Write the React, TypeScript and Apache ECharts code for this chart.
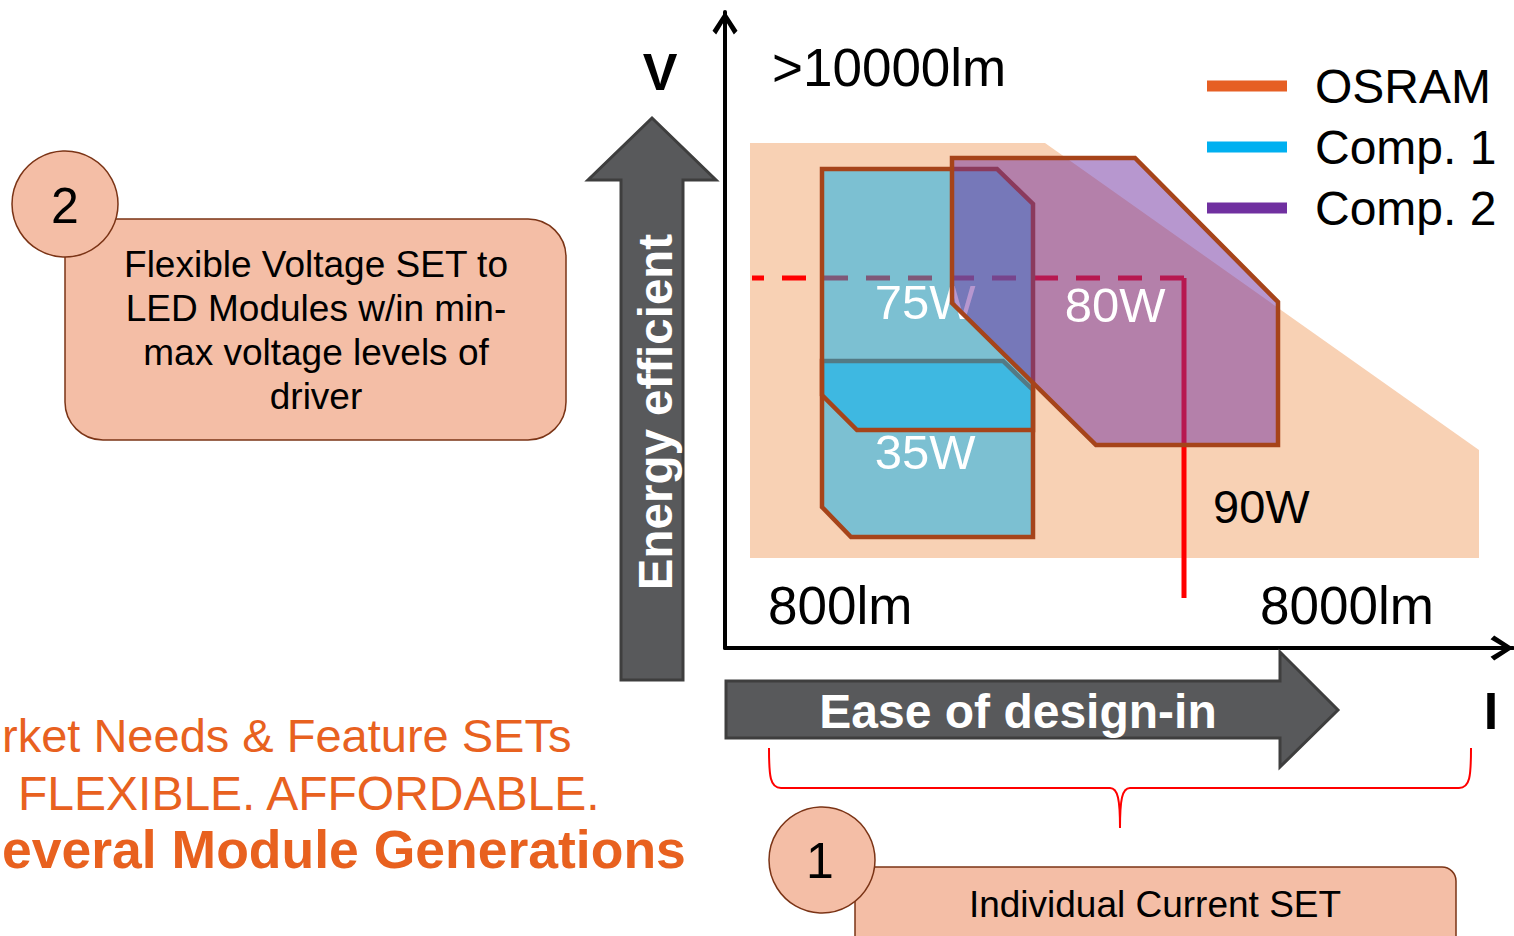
import React, { useEffect, useRef } from "react";
import * as echarts from "echarts";

// Conceptual diagram units (x: current "I", y: voltage "V")
const legendNames = ["OSRAM", "Comp. 1", "Comp. 2"];
const legendColors = ["#E65F24", "#00B0F0", "#7030A0"];

const osramArea = [[2.5, 50.5], [32.0, 50.5], [75.4, 19.8], [75.4, 9.0], [2.5, 9.0]];
const comp1Module35W = [[9.7, 28.7], [27.8, 28.7], [30.8, 25.8], [30.8, 11.1], [12.6, 11.1], [9.7, 14.1]];
const comp1Module75W = [[9.7, 47.9], [27.2, 47.9], [30.8, 44.4], [30.8, 21.8], [13.2, 21.8], [9.7, 25.3]];
const comp2Module80W = [[22.7, 49.0], [41.0, 49.0], [55.3, 34.6], [55.3, 20.3], [37.1, 20.3], [22.7, 34.5]];

const comp1Labels = ["35W", "75W"];
const comp1LabelPoints = [[20.0, 19.6], [20.0, 34.6]];
const comp2Labels = ["80W"];
const comp2LabelPoints = [[39.0, 34.3]];

const voltageLimit = [[2.7, 37.0], [45.9, 37.0]];
const currentLimit = [[45.9, 37.0], [45.9, 5.0]];
const limitLabel = "90W";
const limitLabelPoint = [48.8, 14.2];

const axisTexts = [">10000lm", "800lm", "8000lm"];
const calloutTexts = [
  "Flexible Voltage SET to\nLED Modules w/in min-\nmax voltage levels of\ndriver",
  "Individual Current SET",
];
// slogan lines as visible in the picture (left part lies beyond the page edge)
const bottomTexts = ["rket Needs & Feature SETs", "FLEXIBLE. AFFORDABLE.", "everal Module Generations"];

const FONT = "'Liberation Sans', Arial, Helvetica, sans-serif";
const BROWN = "#A6441A";
const SALMON = "#F4BEA6";
const CALLOUT_BORDER = "#7B3416";
const ARROW_FILL = "#58595B";
const ARROW_STROKE = "#3E3E3E";
const ORANGE_TEXT = "#E8611F";

const chevron = "path://M0,18.5 L12,0 L24,18.5 L20.5,22 L12,8 L3.5,22 Z";

function txt(text: string, x: number, y: number, size: number, opts: any = {}) {
  const align = opts.align || "left";
  return {
    type: "text",
    x,
    y,
    rotation: opts.rotation || 0,
    z: 10,
    style: {
      text,
      fill: opts.color || "#000",
      fontSize: size,
      fontFamily: FONT,
      fontWeight: opts.bold ? "bold" : "normal",
      textAlign: align,
      align,
      textVerticalAlign: "middle",
      verticalAlign: "middle",
      lineHeight: opts.lineHeight,
    },
  };
}

export default function App() {
  const ref = useRef<HTMLDivElement>(null);

  useEffect(() => {
    if (!ref.current) return;
    echarts.graphic.registerShape(
      "brace",
      echarts.graphic.extendPath(
        "M769,748 C769,776 770,788 781,788 L1110,788 C1118,788 1120,800 1120,828 C1120,800 1122,788 1130,788 L1459,788 C1470,788 1471,776 1471,748",
        {}
      )
    );
    const chart = echarts.init(ref.current, null, { renderer: "svg" });

    const polygonSeries = (
      name: string,
      color: string,
      z: number,
      polys: number[][][],
      fill: string,
      stroke: string | null,
      labels: string[],
      points: number[][],
      labelColor: string
    ) => ({
      type: "custom",
      name,
      z,
      clip: false,
      silent: true,
      itemStyle: { color },
      data: points.map((p, i) => ({ value: p, name: labels[i] })),
      renderItem: (params: any, api: any) => {
        const i = params.dataIndex;
        const pts = polys[i].map((pt) => api.coord(pt));
        const c = api.coord(points[i]);
        const children: any[] = [
          {
            type: "polygon",
            shape: { points: pts },
            style: {
              fill,
              stroke: stroke || "none",
              lineWidth: stroke ? 4.5 : 0,
              lineJoin: "miter",
            },
          },
        ];
        if (labels[i]) {
          children.push({
            type: "text",
            x: c[0],
            y: c[1],
            style: {
              text: labels[i],
              fill: labelColor,
              fontSize: 49,
              fontFamily: FONT,
              textAlign: "center",
              align: "center",
              textVerticalAlign: "middle",
              verticalAlign: "middle",
            },
          });
        }
        return { type: "group", children };
      },
    });

    const axisLine = {
      show: true,
      onZero: true,
      lineStyle: { color: "#000", width: 4 },
      symbol: ["none", chevron],
      symbolSize: [25, 23],
      symbolOffset: [0, -11],
    };

    const option: any = {
      animation: false,
      grid: { left: 725, top: 12, width: 788, height: 636 },
      xAxis: {
        type: "value",
        min: 0,
        max: 78.8,
        axisLine,
        axisTick: { show: false },
        axisLabel: { show: false },
        splitLine: { show: false },
      },
      yAxis: {
        type: "value",
        min: 0,
        max: 63.6,
        axisLine,
        axisTick: { show: false },
        axisLabel: { show: false },
        splitLine: { show: false },
      },
      legend: {
        data: legendNames,
        orient: "vertical",
        left: 1202,
        top: 56,
        icon: "rect",
        itemWidth: 80,
        itemHeight: 11,
        itemGap: 11,
        selectedMode: false,
        textStyle: {
          fontSize: 48,
          fontFamily: FONT,
          color: "#000",
          lineHeight: 50,
          padding: [0, 0, 0, 23],
        },
      },
      series: [
        polygonSeries(legendNames[0], legendColors[0], 1, [osramArea], "#F8D1B4", null, [""], [osramArea[4]], "#fff"),
        {
          type: "line",
          name: "voltage limit",
          z: 2,
          silent: true,
          symbol: "none",
          data: voltageLimit,
          lineStyle: { color: "#FF0000", width: 5, type: [24, 18], dashOffset: 12 },
        },
        {
          type: "line",
          name: "current limit",
          z: 2,
          silent: true,
          symbol: "none",
          data: currentLimit,
          lineStyle: { color: "#FF0000", width: 5 },
        },
        polygonSeries(
          legendNames[1],
          legendColors[1],
          3,
          [comp1Module35W, comp1Module75W],
          "rgba(0,176,240,0.5)",
          BROWN,
          comp1Labels,
          comp1LabelPoints,
          "#fff"
        ),
        polygonSeries(
          legendNames[2],
          legendColors[2],
          4,
          [comp2Module80W],
          "rgba(112,48,160,0.5)",
          BROWN,
          comp2Labels,
          comp2LabelPoints,
          "#fff"
        ),
        {
          type: "custom",
          name: "limit label",
          z: 5,
          clip: false,
          silent: true,
          data: [{ value: limitLabelPoint, name: limitLabel }],
          renderItem: (params: any, api: any) => {
            const c = api.coord(limitLabelPoint);
            return {
              type: "text",
              x: c[0],
              y: c[1],
              style: {
                text: limitLabel,
                fill: "#000",
                fontSize: 47,
                fontFamily: FONT,
                textAlign: "left",
                align: "left",
                textVerticalAlign: "middle",
                verticalAlign: "middle",
              },
            };
          },
        },
      ],
      graphic: [
        // vertical arrow
        {
          type: "polygon",
          z: 5,
          shape: {
            points: [[621, 680], [621, 180], [588, 180], [652, 118], [716, 180], [683, 180], [683, 680]],
          },
          style: { fill: ARROW_FILL, stroke: ARROW_STROKE, lineWidth: 3 },
        },
        txt("Energy efficient", 655, 412, 47.5, { bold: true, color: "#fff", align: "center", rotation: Math.PI / 2 }),
        // horizontal arrow
        {
          type: "polygon",
          z: 5,
          shape: {
            points: [[726, 681], [1280, 681], [1280, 652], [1338, 710], [1280, 767], [1280, 738], [726, 738]],
          },
          style: { fill: ARROW_FILL, stroke: ARROW_STROKE, lineWidth: 3 },
        },
        txt("Ease of design-in", 1018, 711, 48, { bold: true, color: "#fff", align: "center" }),
        // axis names
        txt("V", 660, 72, 52, { bold: true, align: "center" }),
        txt("I", 1491, 711, 52, { bold: true, align: "center" }),
        // lumen texts
        txt(axisTexts[0], 772, 67, 53),
        txt(axisTexts[1], 768, 605, 53),
        txt(axisTexts[2], 1260, 605, 53),
        // brace
        { type: "brace", z: 5, x: 0, y: 0, style: { fill: "none", stroke: "#FF0000", lineWidth: 2 } },
        // callout 2
        {
          type: "rect",
          z: 5,
          shape: { x: 65, y: 219, width: 501, height: 221, r: 38 },
          style: { fill: SALMON, stroke: CALLOUT_BORDER, lineWidth: 1.5 },
        },
        {
          type: "circle",
          z: 6,
          shape: { cx: 65, cy: 204, r: 53 },
          style: { fill: SALMON, stroke: CALLOUT_BORDER, lineWidth: 1.5 },
        },
        txt("2", 65, 206, 50, { align: "center" }),
        txt(calloutTexts[0], 316, 330.5, 37, { align: "center", lineHeight: 44 }),
        // callout 1
        {
          type: "rect",
          z: 5,
          shape: { x: 855, y: 867, width: 601, height: 100, r: 14 },
          style: { fill: SALMON, stroke: CALLOUT_BORDER, lineWidth: 1.5 },
        },
        {
          type: "circle",
          z: 6,
          shape: { cx: 822, cy: 860, r: 53 },
          style: { fill: SALMON, stroke: CALLOUT_BORDER, lineWidth: 1.5 },
        },
        txt("1", 820, 861, 50, { align: "center" }),
        txt(calloutTexts[1], 1155, 904, 37, { align: "center" }),
        // bottom-left slogan
        txt(bottomTexts[0], 2, 735, 47, { color: ORANGE_TEXT }),
        txt(bottomTexts[1], 18, 793, 48, { color: ORANGE_TEXT }),
        txt(bottomTexts[2], 2, 849, 53.5, { bold: true, color: ORANGE_TEXT }),
      ],
    };

    chart.setOption(option);
    return () => chart.dispose();
  }, []);

  return (
    <div
      ref={ref}
      style={{ position: "absolute", left: 0, top: 0, width: 1514, height: 936, background: "#fff" }}
    />
  );
}
